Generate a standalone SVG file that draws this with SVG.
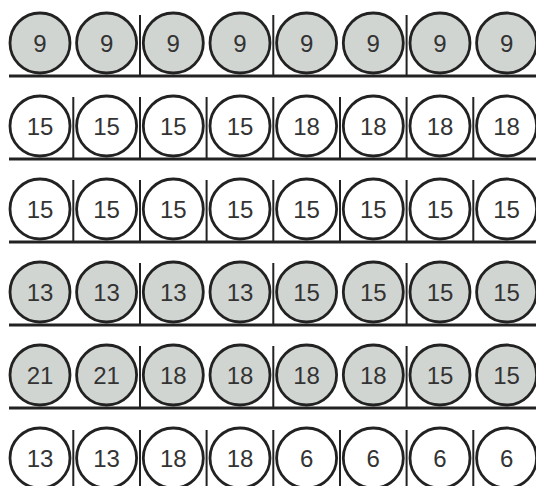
<svg xmlns="http://www.w3.org/2000/svg" width="536" height="486" viewBox="0 0 536 486">
<style>
.c{stroke:#222;stroke-width:2.8}
.g{fill:#d1d5d2}
.w{fill:#fff}
.t{font-family:"Liberation Sans",Arial,sans-serif;font-size:24px;fill:#333;text-anchor:middle;dominant-baseline:central}
.b{stroke:#222;stroke-width:3;fill:none}
.v{stroke:#222;stroke-width:2;fill:none}
</style>
<rect width="536" height="486" fill="#fff"/>
<g id="connectors">
<path class="b" d="M9 76H536M9 159H536M9 242H536M9 325H536M9 408H536"/>
<path class="v" d="M140 15V76M273.3 15V76M406.6 15V76"/>
<path class="v" d="M73.3 97V159M140 97V159M206.6 97V159M273.3 97V159M340 97V159M406.6 97V159M473.3 97V159"/>
<path class="v" d="M73.3 180V242M140 180V242M206.6 180V242M273.3 180V242M340 180V242M406.6 180V242M473.3 180V242"/>
<path class="v" d="M140 263V325M273.3 263V325M406.6 263V325"/>
<path class="v" d="M140 346V408M273.3 346V408M406.6 346V408"/>
<path class="v" d="M73.3 430V486M140 430V486M206.6 430V486M273.3 430V486M340 430V486M406.6 430V486M473.3 430V486"/>
</g>
<g id="row1">
<g id="r1n1"><circle class="c g" cx="40" cy="43" r="30"/><text class="t" x="40" y="43">9</text></g>
<g id="r1n2"><circle class="c g" cx="106.6" cy="43" r="30"/><text class="t" x="106.6" y="43">9</text></g>
<g id="r1n3"><circle class="c g" cx="173.3" cy="43" r="30"/><text class="t" x="173.3" y="43">9</text></g>
<g id="r1n4"><circle class="c g" cx="240" cy="43" r="30"/><text class="t" x="240" y="43">9</text></g>
<g id="r1n5"><circle class="c g" cx="306.6" cy="43" r="30"/><text class="t" x="306.6" y="43">9</text></g>
<g id="r1n6"><circle class="c g" cx="373.3" cy="43" r="30"/><text class="t" x="373.3" y="43">9</text></g>
<g id="r1n7"><circle class="c g" cx="440" cy="43" r="30"/><text class="t" x="440" y="43">9</text></g>
<g id="r1n8"><circle class="c g" cx="506.6" cy="43" r="30"/><text class="t" x="506.6" y="43">9</text></g>
</g>
<g id="row2">
<g id="r2n1"><circle class="c w" cx="40" cy="126" r="30"/><text class="t" x="40" y="126">15</text></g>
<g id="r2n2"><circle class="c w" cx="106.6" cy="126" r="30"/><text class="t" x="106.6" y="126">15</text></g>
<g id="r2n3"><circle class="c w" cx="173.3" cy="126" r="30"/><text class="t" x="173.3" y="126">15</text></g>
<g id="r2n4"><circle class="c w" cx="240" cy="126" r="30"/><text class="t" x="240" y="126">15</text></g>
<g id="r2n5"><circle class="c w" cx="306.6" cy="126" r="30"/><text class="t" x="306.6" y="126">18</text></g>
<g id="r2n6"><circle class="c w" cx="373.3" cy="126" r="30"/><text class="t" x="373.3" y="126">18</text></g>
<g id="r2n7"><circle class="c w" cx="440" cy="126" r="30"/><text class="t" x="440" y="126">18</text></g>
<g id="r2n8"><circle class="c w" cx="506.6" cy="126" r="30"/><text class="t" x="506.6" y="126">18</text></g>
</g>
<g id="row3">
<g id="r3n1"><circle class="c w" cx="40" cy="209" r="30"/><text class="t" x="40" y="209">15</text></g>
<g id="r3n2"><circle class="c w" cx="106.6" cy="209" r="30"/><text class="t" x="106.6" y="209">15</text></g>
<g id="r3n3"><circle class="c w" cx="173.3" cy="209" r="30"/><text class="t" x="173.3" y="209">15</text></g>
<g id="r3n4"><circle class="c w" cx="240" cy="209" r="30"/><text class="t" x="240" y="209">15</text></g>
<g id="r3n5"><circle class="c w" cx="306.6" cy="209" r="30"/><text class="t" x="306.6" y="209">15</text></g>
<g id="r3n6"><circle class="c w" cx="373.3" cy="209" r="30"/><text class="t" x="373.3" y="209">15</text></g>
<g id="r3n7"><circle class="c w" cx="440" cy="209" r="30"/><text class="t" x="440" y="209">15</text></g>
<g id="r3n8"><circle class="c w" cx="506.6" cy="209" r="30"/><text class="t" x="506.6" y="209">15</text></g>
</g>
<g id="row4">
<g id="r4n1"><circle class="c g" cx="40" cy="292" r="30"/><text class="t" x="40" y="292">13</text></g>
<g id="r4n2"><circle class="c g" cx="106.6" cy="292" r="30"/><text class="t" x="106.6" y="292">13</text></g>
<g id="r4n3"><circle class="c g" cx="173.3" cy="292" r="30"/><text class="t" x="173.3" y="292">13</text></g>
<g id="r4n4"><circle class="c g" cx="240" cy="292" r="30"/><text class="t" x="240" y="292">13</text></g>
<g id="r4n5"><circle class="c g" cx="306.6" cy="292" r="30"/><text class="t" x="306.6" y="292">15</text></g>
<g id="r4n6"><circle class="c g" cx="373.3" cy="292" r="30"/><text class="t" x="373.3" y="292">15</text></g>
<g id="r4n7"><circle class="c g" cx="440" cy="292" r="30"/><text class="t" x="440" y="292">15</text></g>
<g id="r4n8"><circle class="c g" cx="506.6" cy="292" r="30"/><text class="t" x="506.6" y="292">15</text></g>
</g>
<g id="row5">
<g id="r5n1"><circle class="c g" cx="40" cy="375" r="30"/><text class="t" x="40" y="375">21</text></g>
<g id="r5n2"><circle class="c g" cx="106.6" cy="375" r="30"/><text class="t" x="106.6" y="375">21</text></g>
<g id="r5n3"><circle class="c g" cx="173.3" cy="375" r="30"/><text class="t" x="173.3" y="375">18</text></g>
<g id="r5n4"><circle class="c g" cx="240" cy="375" r="30"/><text class="t" x="240" y="375">18</text></g>
<g id="r5n5"><circle class="c g" cx="306.6" cy="375" r="30"/><text class="t" x="306.6" y="375">18</text></g>
<g id="r5n6"><circle class="c g" cx="373.3" cy="375" r="30"/><text class="t" x="373.3" y="375">18</text></g>
<g id="r5n7"><circle class="c g" cx="440" cy="375" r="30"/><text class="t" x="440" y="375">15</text></g>
<g id="r5n8"><circle class="c g" cx="506.6" cy="375" r="30"/><text class="t" x="506.6" y="375">15</text></g>
</g>
<g id="row6">
<g id="r6n1"><circle class="c w" cx="40" cy="458" r="30"/><text class="t" x="40" y="458">13</text></g>
<g id="r6n2"><circle class="c w" cx="106.6" cy="458" r="30"/><text class="t" x="106.6" y="458">13</text></g>
<g id="r6n3"><circle class="c w" cx="173.3" cy="458" r="30"/><text class="t" x="173.3" y="458">18</text></g>
<g id="r6n4"><circle class="c w" cx="240" cy="458" r="30"/><text class="t" x="240" y="458">18</text></g>
<g id="r6n5"><circle class="c w" cx="306.6" cy="458" r="30"/><text class="t" x="306.6" y="458">6</text></g>
<g id="r6n6"><circle class="c w" cx="373.3" cy="458" r="30"/><text class="t" x="373.3" y="458">6</text></g>
<g id="r6n7"><circle class="c w" cx="440" cy="458" r="30"/><text class="t" x="440" y="458">6</text></g>
<g id="r6n8"><circle class="c w" cx="506.6" cy="458" r="30"/><text class="t" x="506.6" y="458">6</text></g>
</g>
</svg>
